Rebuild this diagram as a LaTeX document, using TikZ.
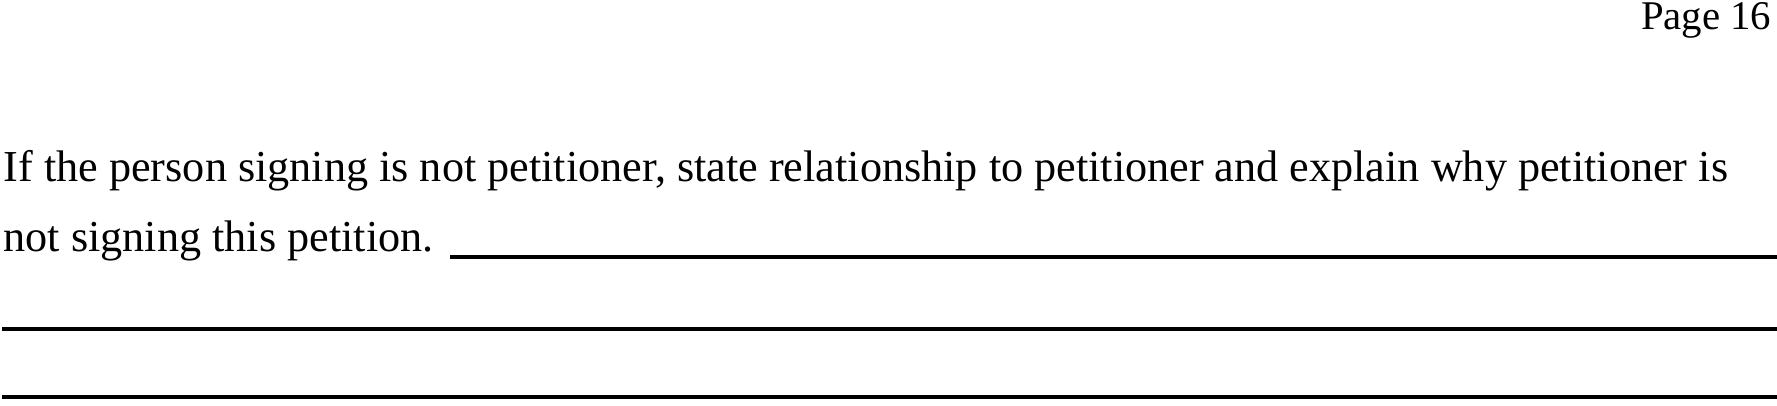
\documentclass[tikz,border=0pt]{standalone}
\usepackage{fontspec}
\setmainfont{Liberation Serif}
\usepackage{tikz}

\begin{document}
\begin{tikzpicture}[x=0.01cm, y=-0.01cm,
  formtext/.style={inner sep=0pt, font=\fontsize{12.57}{15}\selectfont},
  blank/.style={line width=0.9pt}]
\useasboundingbox (0,0) rectangle (1777,405);
\node[formtext, anchor=base east, font=\fontsize{11.6}{14}\selectfont](page) at (1772,29){Page 16};
\node[formtext, anchor=base west](ask) at (3,181){If the person signing is not petitioner, state relationship to petitioner and explain why petitioner is};
\node[formtext, anchor=base west](askb) at (3,251){not signing this petition.};
\coordinate (b1s) at ([xshift=4.5pt]askb.base east);
\coordinate (b1e) at (1777,257);
\draw[blank] (b1s |- b1e) -- (b1e);
\foreach \n/\y in {2/329,3/397}{
  \coordinate (b\n s) at (2,\y);
  \coordinate (b\n e) at (1777,\y);
  \draw[blank] (b\n s) -- (b\n e);
}
\end{tikzpicture}
\end{document}
